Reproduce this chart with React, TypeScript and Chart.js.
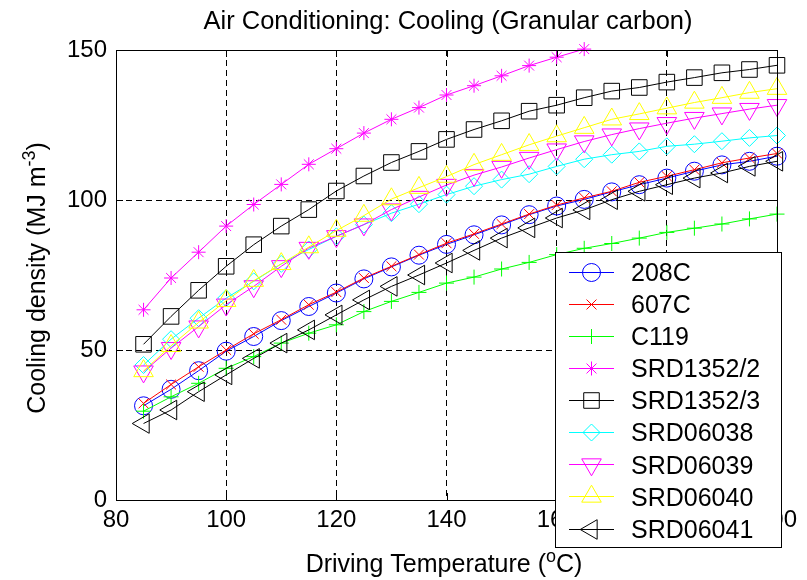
import React, { useEffect, useRef } from 'react';
import { Chart, registerables } from 'chart.js';
import { drawPoint } from 'chart.js/helpers';

Chart.register(...registerables);

// ---------------- data ----------------
const TITLE = 'Air Conditioning: Cooling (Granular carbon)';
const TEMPERATURES = [85, 90, 95, 100, 105, 110, 115, 120, 125, 130, 135, 140, 145, 150, 155, 160, 165, 170, 175, 180, 185, 190, 195, 200];
const X_TICKS = [80, 100, 120, 140, 160, 180, 200];
const Y_TICKS = [0, 50, 100, 150];

const S_208C = [31.4, 36.9, 43.1, 49.6, 54.5, 59.8, 64.5, 69.0, 73.7, 77.7, 81.6, 85.2, 88.4, 91.7, 95.1, 98.0, 100.2, 102.7, 105.1, 107.3, 109.6, 111.7, 112.9, 114.6];
const S_607C = [32.2, 38.5, 44.4, 50.0, 55.4, 60.1, 65.1, 69.3, 74.0, 77.9, 81.8, 85.6, 88.7, 92.0, 95.3, 98.3, 100.7, 102.9, 105.9, 107.9, 110.1, 112.4, 114.0, 115.5];
const S_C119 = [29.6, 34.4, 38.9, 43.9, 47.8, 52.3, 55.6, 58.4, 62.8, 66.2, 69.2, 72.3, 74.3, 77.0, 79.2, 81.8, 83.9, 85.5, 87.3, 89.2, 90.6, 92.0, 93.7, 95.3];
const S_SRD1352_2 = [63.4, 74.0, 82.6, 91.3, 98.5, 105.2, 111.9, 117.1, 122.3, 126.9, 130.8, 135.0, 138.1, 141.4, 144.8, 147.6, 150.3];
const S_SRD1352_3 = [51.9, 61.2, 69.9, 77.9, 85.1, 91.3, 96.8, 103.0, 108.0, 112.5, 116.2, 120.2, 123.5, 126.4, 129.6, 131.6, 134.1, 136.3, 137.5, 139.3, 140.8, 142.4, 143.5, 144.9];
const S_SRD06038 = [45.0, 53.6, 60.6, 67.3, 72.9, 78.7, 83.5, 87.9, 91.8, 95.6, 98.6, 101.8, 104.6, 106.8, 108.6, 111.2, 113.6, 115.1, 116.2, 117.9, 118.6, 119.6, 120.7, 121.5];
const S_SRD06039 = [42.8, 50.6, 57.8, 65.1, 71.2, 77.9, 84.0, 87.9, 91.8, 96.8, 101.0, 105.0, 108.3, 111.0, 114.0, 116.8, 119.5, 121.8, 123.8, 125.6, 127.3, 128.8, 130.3, 131.6];
const S_SRD06040 = [43.0, 51.4, 59.2, 66.4, 73.1, 78.7, 84.3, 89.8, 94.8, 100.3, 104.1, 107.8, 111.8, 115.1, 118.4, 121.3, 124.1, 126.9, 128.7, 130.6, 132.5, 134.1, 135.8, 137.1];
const S_SRD06041 = [25.5, 30.0, 36.1, 41.7, 47.2, 52.3, 56.7, 61.7, 66.7, 71.2, 75.0, 79.0, 83.2, 87.3, 90.7, 94.0, 96.7, 100.1, 102.9, 105.1, 107.3, 109.0, 111.2, 112.9];

const SERIES_NAMES = ['208C', '607C', 'C119', 'SRD1352/2', 'SRD1352/3', 'SRD06038', 'SRD06039', 'SRD06040', 'SRD06041'];
const SERIES_VALUES = [S_208C, S_607C, S_C119, S_SRD1352_2, S_SRD1352_3, S_SRD06038, S_SRD06039, S_SRD06040, S_SRD06041];

// ---------------- styles ----------------
const SERIES_STYLES = [
  { color: '#0000ff', pointStyle: 'circle', radius: 9, rotation: 0 },
  { color: '#ff0000', pointStyle: 'crossRot', radius: 7, rotation: 0 },
  { color: '#00ff00', pointStyle: 'cross', radius: 7.5, rotation: 0 },
  { color: '#ff00ff', pointStyle: 'star', radius: 7, rotation: 0 },
  { color: '#000000', pointStyle: 'rect', radius: 11, rotation: 0 },
  { color: '#00ffff', pointStyle: 'rectRot', radius: 8.5, rotation: 0 },
  { color: '#ff00ff', pointStyle: 'triangle', radius: 11.3, rotation: 180 },
  { color: '#ffff00', pointStyle: 'triangle', radius: 11.3, rotation: 0 },
  { color: '#000000', pointStyle: 'triangle', radius: 11.3, rotation: 270 },
];

const FONT = '"Liberation Sans", Arial, Helvetica, sans-serif';
const W = 807;
const H = 580;

type Part = { t: string; sup?: boolean };

function drawRich(ctx: CanvasRenderingContext2D, parts: Part[], cx: number, baseline: number, size: number) {
  const supSize = size * 0.72;
  const widths = parts.map((p) => {
    ctx.font = `${p.sup ? supSize : size}px ${FONT}`;
    return ctx.measureText(p.t).width;
  });
  const total = widths.reduce((a, b) => a + b, 0);
  let x = cx - total / 2;
  ctx.textAlign = 'left';
  ctx.textBaseline = 'alphabetic';
  parts.forEach((p, i) => {
    ctx.font = `${p.sup ? supSize : size}px ${FONT}`;
    ctx.fillText(p.t, x, p.sup ? baseline - size * 0.42 : baseline);
    x += widths[i];
  });
}

const decorPlugin = {
  id: 'matlabDecor',
  afterDatasetsDraw(chart: any) {
    const ctx: CanvasRenderingContext2D = chart.ctx;
    const { left, right, top, bottom } = chart.chartArea;
    const xs = chart.scales.x;
    const ys = chart.scales.y;
    ctx.save();
    ctx.strokeStyle = '#000';
    ctx.lineWidth = 1;
    ctx.setLineDash([]);
    // inward ticks
    ctx.beginPath();
    const tl = 7;
    X_TICKS.forEach((v) => {
      const px = Math.round(xs.getPixelForValue(v)) + 0.5;
      ctx.moveTo(px, bottom);
      ctx.lineTo(px, bottom - tl);
      ctx.moveTo(px, top);
      ctx.lineTo(px, top + tl);
    });
    Y_TICKS.forEach((v) => {
      const py = Math.round(ys.getPixelForValue(v)) + 0.5;
      ctx.moveTo(left, py);
      ctx.lineTo(left + tl, py);
      ctx.moveTo(right, py);
      ctx.lineTo(right - tl, py);
    });
    ctx.stroke();
    // box
    ctx.strokeRect(Math.round(left) + 0.5, Math.round(top) + 0.5, Math.round(right - left), Math.round(bottom - top));
    ctx.restore();
  },
  afterDraw(chart: any) {
    const ctx: CanvasRenderingContext2D = chart.ctx;
    ctx.save();
    ctx.fillStyle = '#000';
    // title
    drawRich(ctx, [{ t: TITLE }], 448, 29, 25.5);
    // x label
    drawRich(ctx, [{ t: 'Driving Temperature (' }, { t: 'o', sup: true }, { t: 'C)' }], 444, 572, 25);
    // y label
    ctx.save();
    ctx.translate(45, 278);
    ctx.rotate(-Math.PI / 2);
    drawRich(ctx, [{ t: 'Cooling density (MJ m' }, { t: '-3', sup: true }, { t: ')' }], 0, 0, 25);
    ctx.restore();

    // legend
    const bx = 555.5, by = 252.5, bw = 226, bh = 295;
    ctx.fillStyle = '#fff';
    ctx.fillRect(bx, by, bw, bh);
    ctx.strokeStyle = '#000';
    ctx.lineWidth = 1;
    ctx.strokeRect(bx, by, bw, bh);
    SERIES_NAMES.forEach((name, i) => {
      const st = SERIES_STYLES[i];
      const y = 271.7 + i * 32.1;
      const yl = Math.round(y) + 0.5;
      ctx.strokeStyle = st.color;
      ctx.lineWidth = 1;
      ctx.beginPath();
      ctx.moveTo(569, yl);
      ctx.lineTo(614, yl);
      ctx.stroke();
      ctx.fillStyle = 'rgba(0,0,0,0)';
      drawPoint(ctx, { pointStyle: st.pointStyle, rotation: st.rotation, radius: st.radius, borderWidth: 1 } as any, 591.5, yl);
      ctx.fillStyle = '#000';
      ctx.font = `25px ${FONT}`;
      ctx.textAlign = 'left';
      ctx.textBaseline = 'alphabetic';
      ctx.fillText(name, 631, y + 9.2);
    });
    ctx.restore();
  },
};

export default function App() {
  const canvasRef = useRef<HTMLCanvasElement | null>(null);

  useEffect(() => {
    const canvas = canvasRef.current;
    if (!canvas) return;
    const n = SERIES_VALUES.length;
    const datasets = SERIES_VALUES.map((vals, i) => {
      const st = SERIES_STYLES[i];
      return {
        label: SERIES_NAMES[i],
        data: vals.map((v, j) => ({ x: TEMPERATURES[j], y: v })),
        borderColor: st.color,
        backgroundColor: 'rgba(0,0,0,0)',
        borderWidth: 1,
        pointStyle: st.pointStyle,
        pointRadius: st.radius,
        pointRotation: st.rotation,
        pointBorderColor: st.color,
        pointBackgroundColor: 'rgba(0,0,0,0)',
        pointBorderWidth: 1,
        tension: 0,
        fill: false,
        clip: false as any,
        order: n - i,
      };
    });

    const gridColor = (lo: number, hi: number) => (c: any) =>
      c.tick && (c.tick.value === lo || c.tick.value === hi) ? 'rgba(0,0,0,0)' : '#000';

    const chart = new Chart(canvas, {
      type: 'line',
      data: { datasets: datasets as any },
      options: {
        responsive: false,
        animation: false,
        events: [],
        devicePixelRatio: 1,
        layout: { padding: { left: 0, right: 30, top: 50, bottom: 0 } },
        plugins: {
          legend: { display: false },
          title: { display: false },
          tooltip: { enabled: false },
        },
        scales: {
          x: {
            type: 'linear',
            min: 80,
            max: 200,
            afterFit: (s: any) => { s.height = 80; },
            afterBuildTicks: (s: any) => { s.ticks = X_TICKS.map((v) => ({ value: v })); },
            ticks: { color: '#000', font: { family: FONT, size: 24 }, padding: 6, maxRotation: 0, autoSkip: false },
            grid: { color: gridColor(80, 200), lineWidth: 1, drawTicks: false },
            border: { display: false, dash: [6, 4] },
          },
          y: {
            type: 'linear',
            min: 0,
            max: 150,
            afterFit: (s: any) => { s.width = 116; },
            afterBuildTicks: (s: any) => { s.ticks = Y_TICKS.map((v) => ({ value: v })); },
            ticks: { color: '#000', font: { family: FONT, size: 24 }, padding: 9, autoSkip: false },
            grid: { color: gridColor(0, 150), lineWidth: 1, drawTicks: false },
            border: { display: false, dash: [6, 4] },
          },
        },
      },
      plugins: [decorPlugin],
    });
    return () => chart.destroy();
  }, []);

  return (
    <div style={{ position: 'absolute', left: 0, top: 0, width: W, height: H, background: '#fff' }}>
      <canvas ref={canvasRef} width={W} height={H} style={{ display: 'block', width: W, height: H }} />
    </div>
  );
}
